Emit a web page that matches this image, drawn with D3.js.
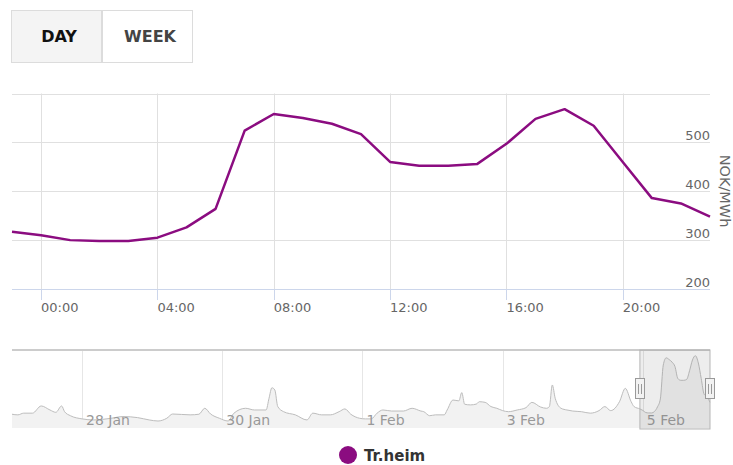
<!DOCTYPE html>
<html>
<head>
<meta charset="utf-8">
<script src="https://cdn.jsdelivr.net/npm/d3@7.9.0/dist/d3.min.js"></script>
<style>
  body { margin: 0; background: #fff; }
  svg { display: block; font-family: 'DejaVu Sans', sans-serif; }
</style>
</head>
<body>
<svg id="chart" width="733" height="465"></svg>
<script>
// hourly prices for the selected day, 4 Feb 23:00 .. 5 Feb 23:00
const dayStart = new Date(2024, 1, 4, 23);
const dayPrices = [317, 310, 300, 298, 298, 305, 326, 364, 524, 558, 550, 538, 517,
  460, 452, 452, 456, 497, 548, 568, 534, 460, 386, 375, 348];

// navigator history: hours after 27 Jan 00:00 and prices
const navStart = new Date(2024, 0, 27, 0);
const navHours = [0, 2, 4, 7, 10, 13, 15, 17, 18, 20, 24, 28, 34, 38, 43, 47, 50, 53, 55,
  61, 64, 66, 68, 71, 74, 76, 80, 83, 87, 88, 89, 90, 91, 93, 97, 101, 103, 106, 109, 112,
  114, 116, 119, 121, 123, 125, 127, 130, 134, 137, 140, 141, 143, 145, 148, 149, 151, 153,
  154, 155, 157, 159, 160, 162, 164, 166, 168, 170, 173, 176, 178, 181, 183, 184, 185, 186,
  188, 190, 192, 195, 198, 201, 203, 205, 208, 210, 212, 213];
const navPrices = [292, 289, 297, 297, 331, 312, 301, 331, 304, 285, 270, 265, 273, 281, 276,
  265, 260, 273, 293, 289, 292, 320, 293, 273, 260, 297, 320, 312, 312, 367, 417, 406, 328,
  304, 289, 265, 297, 289, 289, 304, 317, 292, 273, 270, 270, 297, 312, 307, 307, 320, 307,
  304, 285, 289, 289, 312, 359, 355, 394, 339, 336, 340, 351, 348, 328, 320, 309, 304, 312,
  323, 348, 326, 320, 328, 430, 367, 320, 312, 307, 304, 297, 309, 328, 309, 351, 414, 351, 328];
const navTickDates = [new Date(2024, 0, 28), new Date(2024, 0, 30), new Date(2024, 1, 1),
  new Date(2024, 1, 3), new Date(2024, 1, 5)];

const yTicks = [200, 300, 400, 500];
const yGrid = [200, 300, 400, 500, 600];
const seriesName = 'Tr.heim';
const lineColor = '#8b0c80';

const svg = d3.select('#chart');

const dayData = dayPrices.map((v, i) => ({ t: d3.timeHour.offset(dayStart, i), v }));
const navData = navHours.map((h, i) => ({ t: d3.timeHour.offset(navStart, h), v: navPrices[i] }))
  .concat(dayData);

// range buttons
const buttons = [
  { label: 'DAY', x: 11, bg: '#f4f4f4', color: '#111' },
  { label: 'WEEK', x: 102, bg: '#fff', color: '#444' },
];
buttons.forEach((b) => {
  svg.append('rect')
    .attr('x', b.x + 0.5).attr('y', 10.5).attr('width', 90).attr('height', 52)
    .attr('fill', b.bg).attr('stroke', '#dcdcdc');
  svg.append('text')
    .attr('x', b.x + 48).attr('y', 42)
    .attr('text-anchor', 'middle')
    .attr('font-size', 16).attr('font-weight', 'bold')
    .attr('fill', b.color)
    .text(b.label);
});

// main chart
const x = d3.scaleTime().domain([dayStart, d3.timeHour.offset(dayStart, 24)]).range([12, 710]);
const y = d3.scaleLinear().domain([200, 600]).range([289, 93.5]);
const hourTicks = x.ticks(d3.timeHour.every(4));

svg.append('g').selectAll('line').data(yGrid).join('line')
  .attr('x1', 12).attr('x2', 710)
  .attr('y1', (d) => Math.round(y(d)) + 0.5).attr('y2', (d) => Math.round(y(d)) + 0.5)
  .attr('stroke', '#e0e0e0');

svg.append('g').selectAll('line').data(hourTicks).join('line')
  .attr('x1', (d) => Math.round(x(d)) + 0.5).attr('x2', (d) => Math.round(x(d)) + 0.5)
  .attr('y1', y(600)).attr('y2', y(200))
  .attr('stroke', '#e0e0e0');

// x axis line and ticks
svg.append('line')
  .attr('x1', 12).attr('x2', 710).attr('y1', 289.5).attr('y2', 289.5)
  .attr('stroke', '#ccd6eb');
svg.append('g').selectAll('line').data(hourTicks).join('line')
  .attr('x1', (d) => Math.round(x(d)) + 0.5).attr('x2', (d) => Math.round(x(d)) + 0.5)
  .attr('y1', 289).attr('y2', 300)
  .attr('stroke', '#ccd6eb');
svg.append('g').selectAll('text').data(hourTicks).join('text')
  .attr('x', (d) => x(d)).attr('y', 312)
  .attr('font-size', 13).attr('fill', '#666')
  .text(d3.timeFormat('%H:%M'));

// y labels on the right
svg.append('g').selectAll('text').data(yTicks).join('text')
  .attr('x', 710).attr('y', (d) => y(d) - 2)
  .attr('text-anchor', 'end')
  .attr('font-size', 13).attr('fill', '#666')
  .text((d) => d);
svg.append('text')
  .attr('transform', 'translate(720,191) rotate(90)')
  .attr('text-anchor', 'middle')
  .attr('font-size', 14.5).attr('fill', '#666')
  .text('NOK/MWh');

const line = d3.line().x((d) => x(d.t)).y((d) => y(d.v));
svg.append('path')
  .datum(dayData)
  .attr('d', line)
  .attr('fill', 'none')
  .attr('stroke', lineColor)
  .attr('stroke-width', 2.5)
  .attr('stroke-linejoin', 'round');

// navigator
const nx = d3.scaleTime().domain([navStart, d3.timeHour.offset(dayStart, 24)]).range([12, 710]);
const ny = d3.scaleLinear().domain([227, 595]).range([428, 350]);

svg.append('g').selectAll('line').data(navTickDates).join('line')
  .attr('x1', (d) => Math.round(nx(d)) + 0.5).attr('x2', (d) => Math.round(nx(d)) + 0.5)
  .attr('y1', 350).attr('y2', 428)
  .attr('stroke', '#e6e6e6');

svg.append('path')
  .datum(navData)
  .attr('d', d3.area().curve(d3.curveMonotoneX)
    .x((d) => nx(d.t)).y0(428).y1((d) => ny(d.v)))
  .attr('fill', '#f2f2f2');
svg.append('path')
  .datum(navData)
  .attr('d', d3.line().curve(d3.curveMonotoneX).x((d) => nx(d.t)).y((d) => ny(d.v)))
  .attr('fill', 'none')
  .attr('stroke', '#bdbdbd')
  .attr('stroke-width', 1);

svg.append('g').selectAll('text').data(navTickDates).join('text')
  .attr('x', (d) => nx(d) + 4).attr('y', 425)
  .attr('font-size', 14).attr('fill', '#999')
  .text(d3.timeFormat('%-d %b'));

svg.append('line')
  .attr('x1', 12).attr('x2', 710).attr('y1', 350).attr('y2', 350)
  .attr('stroke', '#cccccc').attr('stroke-width', 2);

// selected range mask
const m0 = nx(dayStart);
const m1 = nx(d3.timeHour.offset(dayStart, 24));
svg.append('rect')
  .attr('x', m0).attr('y', 350).attr('width', m1 - m0).attr('height', 79)
  .attr('fill', 'rgba(110,110,110,0.12)')
  .attr('stroke', '#b5b5b5');

[m0, m1].forEach((hx) => {
  const h = svg.append('g').attr('transform', `translate(${Math.round(hx)},389)`);
  h.append('rect')
    .attr('x', -4.5).attr('y', -10.5).attr('width', 9).attr('height', 20)
    .attr('fill', '#f2f2f2').attr('stroke', '#999');
  h.append('path')
    .attr('d', 'M-1.5,-5V5M1.5,-5V5')
    .attr('stroke', '#999').attr('stroke-width', 1);
});

// legend
svg.append('circle')
  .attr('cx', 348).attr('cy', 455).attr('r', 9)
  .attr('fill', lineColor);
svg.append('text')
  .attr('x', 364).attr('y', 461)
  .attr('font-size', 15).attr('font-weight', 'bold').attr('fill', '#333')
  .text(seriesName);
</script>
</body>
</html>
